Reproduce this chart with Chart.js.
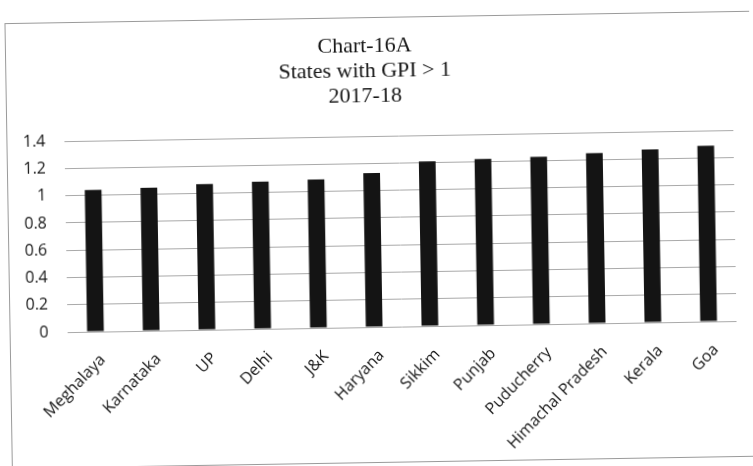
<!DOCTYPE html>
<html>
<head>
<meta charset="utf-8">
<script src="https://cdn.jsdelivr.net/npm/chart.js@4/dist/chart.umd.min.js"></script>
<style>
  html, body { margin: 0; padding: 0; background: #fff; overflow: hidden; }
  #wrap { position: absolute; left: 0; top: 0; width: 753px; height: 466px;
          transform: rotate(-0.95deg); transform-origin: 376px 233px; }
</style>
</head>
<body>
<div id="wrap"><canvas id="c" width="753" height="466"></canvas></div>
<script>
// States with gender parity index above 1, 2017-18
const states = ['Meghalaya', 'Karnataka', 'UP', 'Delhi', 'J&K', 'Haryana', 'Sikkim',
                'Punjab', 'Puducherry', 'Himachal Pradesh', 'Kerala', 'Goa'];
const gpi = [1.04, 1.05, 1.07, 1.08, 1.09, 1.13, 1.21, 1.22, 1.23, 1.25, 1.27, 1.29];
const titleLines = ['Chart-16A', 'States with GPI > 1', '2017-18'];

// thin frame around the whole chart
const frame = {
  id: 'frame',
  beforeDraw(chart) {
    const ctx = chart.ctx;
    ctx.save();
    ctx.fillStyle = '#fff';
    ctx.fillRect(0, 0, chart.width, chart.height);
    ctx.strokeStyle = '#9a9a9a';
    ctx.lineWidth = 1;
    ctx.strokeRect(8.5, 17.5, 800, 445);
    ctx.restore();
  }
};

new Chart(document.getElementById('c'), {
  type: 'bar',
  data: {
    labels: states,
    datasets: [{
      data: gpi,
      backgroundColor: '#141414',
      borderWidth: 0,
      categoryPercentage: 1,
      barPercentage: 0.3
    }]
  },
  options: {
    responsive: false,
    animation: false,
    layout: { padding: { left: 0, right: 18, top: 0, bottom: 0 } },
    plugins: {
      legend: { display: false },
      tooltip: { enabled: false },
      title: {
        display: true,
        text: titleLines,
        color: '#161616',
        font: { family: '"Liberation Serif", "Times New Roman", serif', size: 22, weight: 'normal', lineHeight: 1.14 },
        padding: { top: 34, bottom: 27 }
      }
    },
    scales: {
      x: {
        grid: { display: false, drawTicks: false },
        border: { display: false },
        ticks: {
          color: '#141414',
          font: { family: '"Open Sans", sans-serif', size: 16 },
          minRotation: 45,
          maxRotation: 45,
          padding: 19,
          labelOffset: 7,
          autoSkip: false
        },
        afterFit(scale) { scale.height = 139; }
      },
      y: {
        min: 0,
        max: 1.4,
        ticks: {
          stepSize: 0.2,
          color: '#141414',
          font: { family: '"Open Sans", sans-serif', size: 16 },
          padding: 19,
          callback: (v) => String(+Number(v).toFixed(1))
        },
        grid: { color: '#a9a9a9', lineWidth: 1, drawTicks: false },
        border: { display: false },
        afterFit(scale) { scale.width = 66; }
      }
    }
  },
  plugins: [frame]
});
</script>
</body>
</html>
